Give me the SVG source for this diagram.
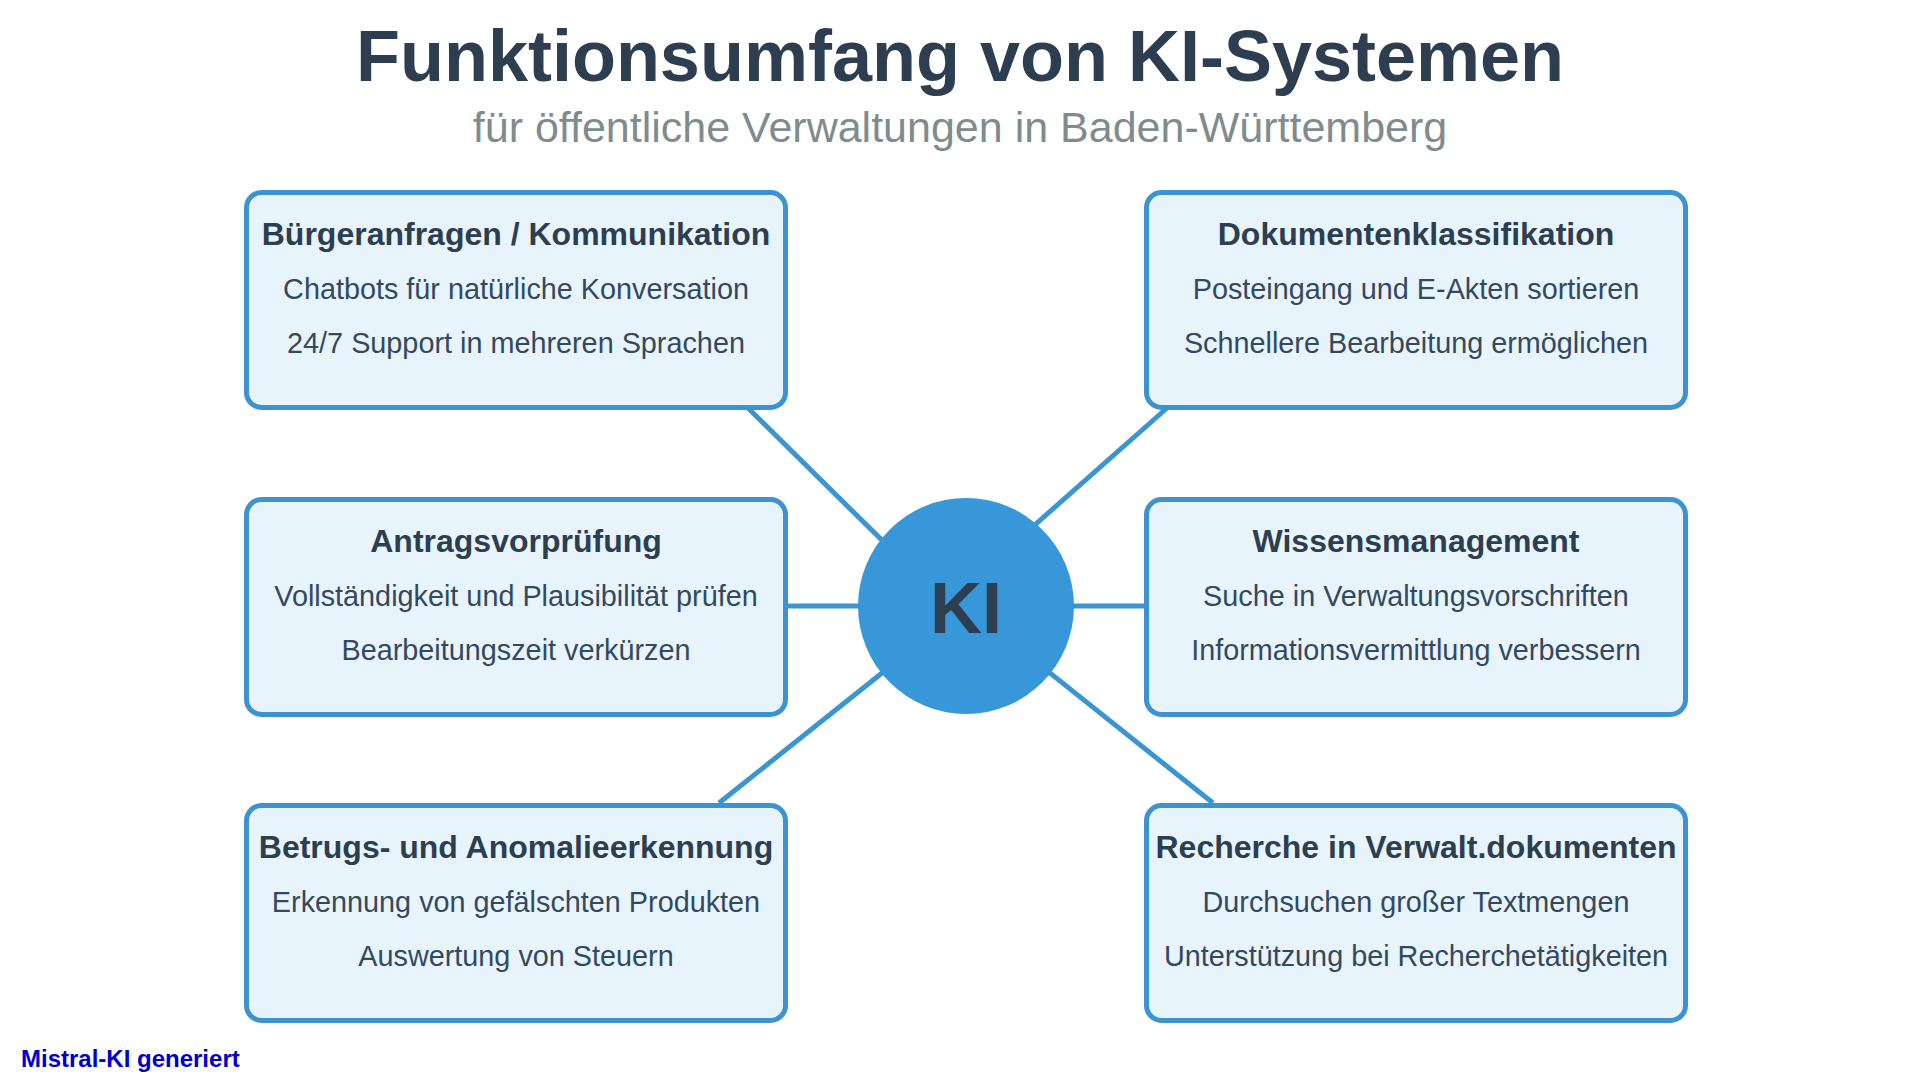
<svg xmlns="http://www.w3.org/2000/svg" width="1920" height="1080" viewBox="0 0 1920 1080">
<style>
.bg{fill:#ffffff}
.title{font-family:"Liberation Sans",Arial,sans-serif;font-weight:bold;font-size:72px;fill:#2c3e50;text-anchor:middle}
.sub{font-family:"Liberation Sans",Arial,sans-serif;font-size:43px;fill:#7f8c8d;text-anchor:middle}
.box{fill:#e8f4fc;stroke:#3c93cf;stroke-width:5}
.bt{font-family:"Liberation Sans",Arial,sans-serif;font-weight:bold;font-size:32px;fill:#2c3e50;text-anchor:middle}
.bl{font-family:"Liberation Sans",Arial,sans-serif;font-size:28.8px;fill:#34495e;text-anchor:middle}
.con{stroke:#3a95d3;stroke-width:5;fill:none}
.hub{fill:#3897d9}
.ki{font-family:"Liberation Sans",Arial,sans-serif;font-weight:bold;font-size:72px;fill:#2c3e50;text-anchor:middle}
.foot{font-family:"Liberation Sans",Arial,sans-serif;font-weight:bold;font-size:24px;fill:#0000cd}
</style>
<rect class="bg" x="0" y="0" width="1920" height="1080"/>
<text class="title" x="960" y="81">Funktionsumfang von KI-Systemen</text>
<text class="sub" x="960" y="142">für öffentliche Verwaltungen in Baden-Württemberg</text>
<g id="connectors">
<line class="con" x1="748" y1="408" x2="900" y2="558"/>
<line class="con" x1="1167" y1="408" x2="1020" y2="538"/>
<line class="con" x1="786" y1="606" x2="966" y2="606"/>
<line class="con" x1="966" y1="606" x2="1146" y2="606"/>
<line class="con" x1="719" y1="803" x2="966" y2="606"/>
<line class="con" x1="1213" y1="803" x2="966" y2="606"/>
</g>
<g id="node-buergeranfragen">
<rect class="box" x="246.5" y="192.5" width="539" height="215" rx="15"/>
<text class="bt" x="516" y="245">Bürgeranfragen / Kommunikation</text>
<text class="bl" x="516" y="299">Chatbots für natürliche Konversation</text>
<text class="bl" x="516" y="353">24/7 Support in mehreren Sprachen</text>
</g>
<g id="node-dokumentenklassifikation">
<rect class="box" x="1146.5" y="192.5" width="539" height="215" rx="15"/>
<text class="bt" x="1416" y="245">Dokumentenklassifikation</text>
<text class="bl" x="1416" y="299">Posteingang und E-Akten sortieren</text>
<text class="bl" x="1416" y="353">Schnellere Bearbeitung ermöglichen</text>
</g>
<g id="node-antragsvorpruefung">
<rect class="box" x="246.5" y="499.5" width="539" height="215" rx="15"/>
<text class="bt" x="516" y="552">Antragsvorprüfung</text>
<text class="bl" x="516" y="606">Vollständigkeit und Plausibilität prüfen</text>
<text class="bl" x="516" y="660">Bearbeitungszeit verkürzen</text>
</g>
<g id="node-wissensmanagement">
<rect class="box" x="1146.5" y="499.5" width="539" height="215" rx="15"/>
<text class="bt" x="1416" y="552">Wissensmanagement</text>
<text class="bl" x="1416" y="606">Suche in Verwaltungsvorschriften</text>
<text class="bl" x="1416" y="660">Informationsvermittlung verbessern</text>
</g>
<g id="node-betrugserkennung">
<rect class="box" x="246.5" y="805.5" width="539" height="215" rx="15"/>
<text class="bt" x="516" y="858">Betrugs- und Anomalieerkennung</text>
<text class="bl" x="516" y="912">Erkennung von gefälschten Produkten</text>
<text class="bl" x="516" y="966">Auswertung von Steuern</text>
</g>
<g id="node-recherche">
<rect class="box" x="1146.5" y="805.5" width="539" height="215" rx="15"/>
<text class="bt" x="1416" y="858">Recherche in Verwalt.dokumenten</text>
<text class="bl" x="1416" y="912">Durchsuchen großer Textmengen</text>
<text class="bl" x="1416" y="966">Unterstützung bei Recherchetätigkeiten</text>
</g>
<g id="node-ki">
<circle class="hub" cx="966" cy="606" r="108"/>
<text class="ki" x="966" y="633">KI</text>
</g>
<text class="foot" x="21" y="1067">Mistral-KI generiert</text>
</svg>
